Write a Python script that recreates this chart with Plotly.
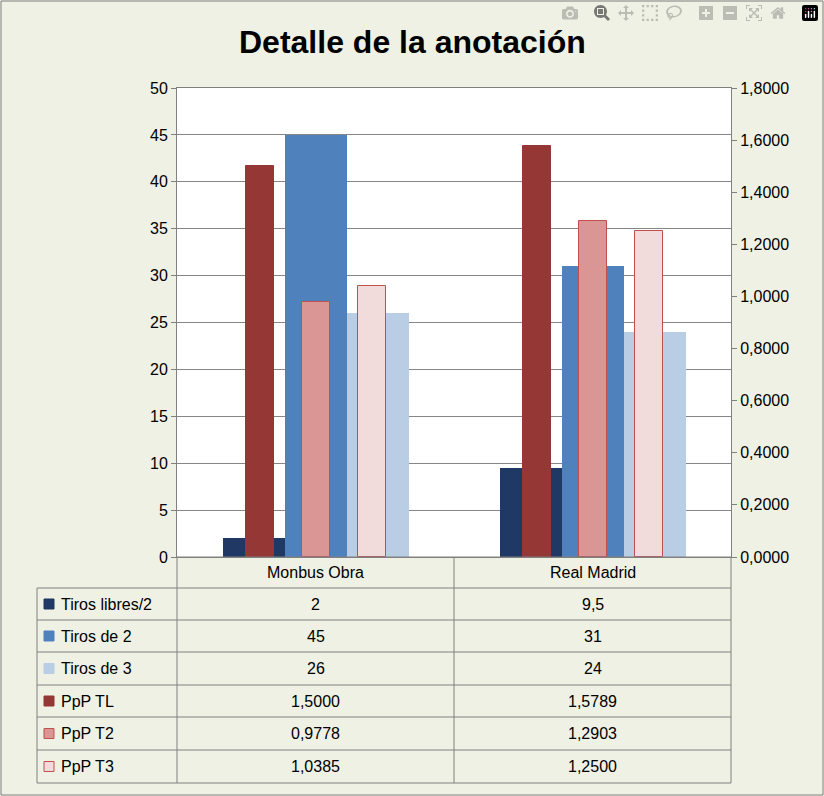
import plotly.graph_objects as go

categories = ["Monbus Obra", "Real Madrid"]
tiros_libres = [2, 9.5]
tiros_2 = [45, 31]
tiros_3 = [26, 24]
ppp_tl = [1.5000, 1.5789]
ppp_t2 = [0.9778, 1.2903]
ppp_t3 = [1.0385, 1.2500]
table_text = [
    ["2", "9,5"], ["45", "31"], ["26", "24"],
    ["1,5000", "1,5789"], ["0,9778", "1,2903"], ["1,0385", "1,2500"],
]
names = ["Tiros libres/2", "Tiros de 2", "Tiros de 3", "PpP TL", "PpP T2", "PpP T3"]
colors = ["#1F3864", "#4F81BD", "#B9CDE5", "#953735", "#D99694", "#F2DCDB"]
lines = ["#1F3864", "#4F81BD", "#B9CDE5", "#953735", "#C0504D", "#C0504D"]

W, H = 824, 796
L, R, T, B = 177, 731, 88, 557
def px(x): return (x - L) / (R - L)
def py(y): return (B - y) / (B - T)

fig = go.Figure()
pw, sw = 0.224, 0.101
prim = [(tiros_libres, -0.334), (tiros_2, -0.110), (tiros_3, 0.114)]
sec = [(ppp_tl, -0.251), (ppp_t2, -0.049), (ppp_t3, 0.153)]
for i, (vals, off) in enumerate(prim):
    fig.add_trace(go.Bar(x=categories, y=vals, width=pw, offset=off, name=names[i],
                         marker=dict(color=colors[i], line=dict(width=0)), yaxis="y"))
for j, (vals, off) in enumerate(sec):
    i = j + 3
    fig.add_trace(go.Bar(x=categories, y=vals, width=sw, offset=off, name=names[i],
                         marker=dict(color=colors[i], line=dict(width=1, color=lines[i])), yaxis="y2"))

shapes = []
lc = "#808080"
def hline(y, x0, x1):
    shapes.append(dict(type="line", xref="paper", yref="paper", x0=px(x0), x1=px(x1), y0=py(y), y1=py(y), line=dict(color=lc, width=1)))
def vline(x, y0, y1):
    shapes.append(dict(type="line", xref="paper", yref="paper", x0=px(x), x1=px(x), y0=py(y0), y1=py(y1), line=dict(color=lc, width=1)))
rows = [557, 588, 620, 652, 685, 717, 750, 783]
for k, y in enumerate(rows):
    hline(y, 37 if k >= 1 else 177, 731)
vline(37, 588, 783)
vline(177, 557, 783)
vline(454, 557, 783)
vline(731, 557, 783)
shapes.append(dict(type="rect", xref="paper", yref="paper", x0=px(1), x1=px(823), y0=py(795), y1=py(1), line=dict(color="#7F7F7F", width=1)))

ann = []
font = dict(family="Liberation Sans, Arial", size=16, color="black")
def note(x, y, text, xa="center", f=font):
    ann.append(dict(x=px(x), y=py(y), text=text, showarrow=False, xref="paper", yref="paper",
                    xanchor=xa, yanchor="middle", font=f))
for c, cat in enumerate(categories):
    note(315.5 + 277 * c, 572.5, cat)
for r in range(6):
    yc = (rows[r + 1] + rows[r + 2]) / 2
    shapes.append(dict(type="rect", xref="paper", yref="paper", x0=px(44), x1=px(54), y0=py(yc + 5), y1=py(yc - 5),
                       fillcolor=colors[r], line=dict(color=lines[r], width=1)))
    note(59, yc, names[r], xa="left")
    for c in range(2):
        note(315.5 + 277 * c, yc, table_text[r][c])
note(412, 42, "<b>Detalle de la anotación</b>", f=dict(family="Liberation Sans, Arial", size=32, color="black"))

fig.update_layout(
    width=W, height=H, margin=dict(l=L, r=W - R, t=T, b=H - B),
    barmode="overlay", bargap=0, showlegend=False,
    paper_bgcolor="#EEF1E4", plot_bgcolor="white", separators=",.",
    xaxis=dict(showticklabels=False, showline=True, linecolor=lc, mirror=True, ticks=""),
    yaxis=dict(range=[0, 50], dtick=5, showgrid=True, gridcolor="#868686", showline=True, linecolor=lc,
               tickfont=dict(family="Liberation Sans, Arial", size=16, color="black"), ticks="outside", ticklen=5, tickcolor=lc),
    yaxis2=dict(range=[0, 1.8], dtick=0.2, tickformat=".4f", overlaying="y", side="right", showgrid=False,
                showline=True, linecolor=lc, tickfont=dict(family="Liberation Sans, Arial", size=16, color="black"),
                ticks="outside", ticklen=5, tickcolor=lc),
    shapes=shapes, annotations=ann,
)
fig.write_html("out.html", post_script="document.body.style.margin='0';")
